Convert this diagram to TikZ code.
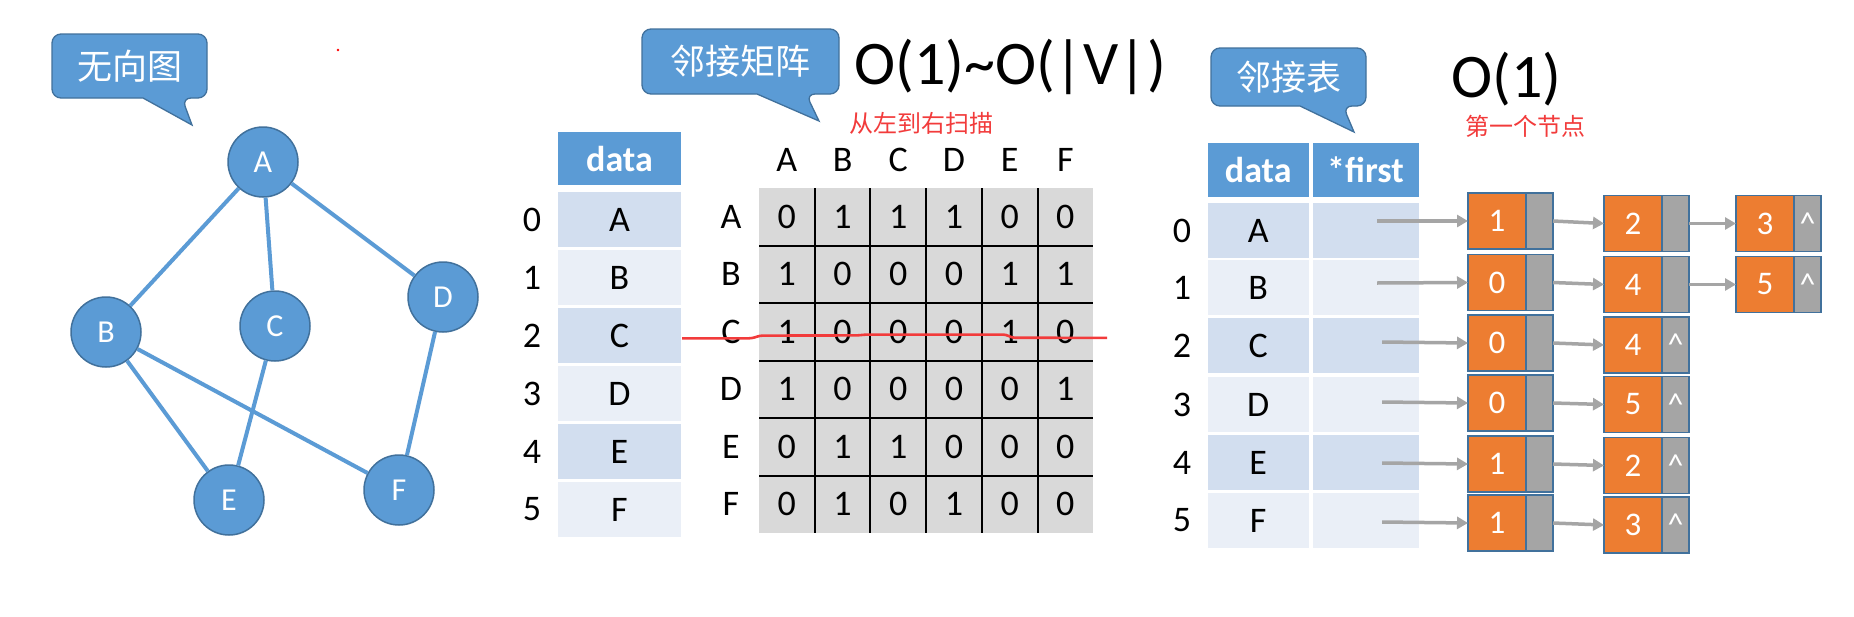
\documentclass[tikz,border=0pt]{standalone}
\usepackage{fontspec}
\setmainfont{Carlito}
\newfontfamily\cjk{Noto Sans CJK SC}
\usetikzlibrary{shapes.geometric,arrows.meta}
\definecolor{cblue}{HTML}{5B9BD5}
\definecolor{cborder}{HTML}{41719C}
\definecolor{rowA}{HTML}{D2DEEF}
\definecolor{rowB}{HTML}{EAEFF7}
\definecolor{mgray}{HTML}{D9D9D9}
\definecolor{corange}{HTML}{ED7D31}
\definecolor{cgray}{HTML}{A5A5A5}
\definecolor{cred}{HTML}{F23B3B}
\newcommand{\fsz}[1]{\fontsize{#1}{#1}\selectfont}
\newcommand{\nullmark}{\raisebox{-4pt}{\textasciicircum}}
\begin{document}
\begin{tikzpicture}[x=1pt,y=-1pt,
  callout/.style={fill=cblue,draw=cborder,line width=1.3pt},
  ctext/.style={text=white,inner sep=0pt,font=\cjk\fsz{35}},
  vert/.style={circle,fill=cblue,draw=cborder,line width=1.5pt,minimum size=70pt,inner sep=0pt,text=white,font=\fsz{32}},
  edge/.style={draw=cblue,line width=4pt},
  hdr/.style={rectangle,fill=cblue,text=white,font=\bfseries\fsz{36},inner sep=0pt},
  celA/.style={rectangle,fill=rowA,inner sep=0pt,minimum height=55pt,font=\fsz{36}},
  celB/.style={rectangle,fill=rowB,inner sep=0pt,minimum height=55pt,font=\fsz{36}},
  lab/.style={font=\fsz{36},inner sep=0pt},
  gridline/.style={draw=black,line width=2pt},
  redline/.style={draw=cred,line width=2.6pt,rounded corners=3pt},
  redtext/.style={text=cred,inner sep=0pt,font=\cjk\fsz{24}},
  onode/.style={rectangle,fill=corange,draw=cborder,line width=1.6pt,minimum width=58pt,minimum height=56pt,inner sep=0pt,outer sep=0pt,text=white,font=\fsz{33}},
  gnode/.style={rectangle,fill=cgray,draw=cborder,line width=1.6pt,minimum width=27pt,minimum height=56pt,inner sep=0pt,outer sep=0pt,text=white,font=\fsz{32}},
  garrow/.style={draw=cgray,line width=3.5pt,-{Triangle[length=11pt,width=12pt]}},
  big/.style={inner sep=0pt,font=\fsz{62}}
]
\useasboundingbox (0,0) rectangle (1854,616);
\fill[white] (0,0) rectangle (1854,616);

% ---------- callouts ----------
\filldraw[callout] (100,34) [rounded corners=9pt] -- (207,34) -- (207,98) -- (182,98) [sharp corners] -- (192,125) -- (143,98) [rounded corners=9pt] -- (52,98) -- (52,34) -- cycle;
\node[ctext] (t1) at (129.5,66) {无向图};

\filldraw[callout] (700,29) [rounded corners=9pt] -- (839,29) -- (839,94) -- (806,94) [sharp corners] -- (819,121) -- (757,94) [rounded corners=9pt] -- (642,94) -- (642,29) -- cycle;
\node[ctext] (t2) at (740.5,61.5) {邻接矩阵};

\filldraw[callout] (1260,48) [rounded corners=9pt] -- (1366,48) -- (1366,106) -- (1343,106) [sharp corners] -- (1354,132) -- (1300,106) [rounded corners=9pt] -- (1211,106) -- (1211,48) -- cycle;
\node[ctext] (t3) at (1288.5,77) {邻接表};

\fill[red] (338,50) circle (1.4);

% ---------- graph ----------
\node[vert] (A) at (263,162) {A};
\node[vert] (B) at (106,332) {B};
\node[vert] (C) at (275,326) {C};
\node[vert] (D) at (443,297) {D};
\node[vert] (E) at (229,500) {E};
\node[vert] (F) at (399,490) {F};
\draw[edge] (A) -- (B);
\draw[edge] (A) -- (C);
\draw[edge] (A) -- (D);
\draw[edge] (B) -- (E);
\draw[edge] (B) -- (F);
\draw[edge] (C) -- (E);
\draw[edge] (D) -- (F);

% ---------- big labels ----------
\node[big,anchor=base west] (o1) at (854,84) {O(1)\textasciitilde O(|V|)};
\node[redtext] (r1) at (921,123) {从左到右扫描};
\node[big,anchor=base west] (o2) at (1451,97) {O(1)};
\node[redtext] (r2) at (1525,126) {第一个节点};

% ---------- left table ----------
\node[hdr,minimum width=123pt,minimum height=53pt] (h1) at (619.5,158.5) {data};
\foreach \L [count=\i from 0] in {A,B,C,D,E,F}{
  \pgfmathsetmacro{\yy}{219.5+58*\i}
  \ifodd\i \node[celB,minimum width=123pt] (l\i) at (619.5,\yy) {\L};
  \else \node[celA,minimum width=123pt] (l\i) at (619.5,\yy) {\L}; \fi
  \node[lab] (li\i) at (532,\yy) {\i};
}

% ---------- matrix ----------
\fill[mgray] (759,188) rectangle (1093,533);
\foreach \k in {1,...,5}{
  \draw[gridline] ({759+55.7*\k},188) -- ({759+55.7*\k},533);
  \draw[gridline] (759,{188+57.5*\k}) -- (1093,{188+57.5*\k});
}
\foreach \L [count=\j from 0] in {A,B,C,D,E,F}{
  \node[lab] (ch\j) at ({786.85+55.7*\j},160) {\L};
  \node[lab] (rh\j) at (731,{216.75+57.5*\j}) {\L};
}
\foreach \row [count=\i from 0] in {{0,1,1,1,0,0},{1,0,0,0,1,1},{1,0,0,0,1,0},{1,0,0,0,0,1},{0,1,1,0,0,0},{0,1,0,1,0,0}}{
  \foreach \v [count=\j from 0] in \row {
    \node[lab] (m\i\j) at ({786.85+55.7*\j},{216.75+57.5*\i}) {\v};
  }
}
\draw[redline] (682,338.3) -- (752,338.3) -- (760,335.6) -- (858,335.4) -- (865,334.6) -- (1006,334.6) -- (1012,337.7) -- (1107,337.9);

% ---------- right table ----------
\node[hdr,minimum width=101.5pt,minimum height=54pt] (h2) at (1258.25,170) {data};
\node[hdr,minimum width=106pt,minimum height=54pt] (h3) at (1365.5,170) {*first};
\foreach \L/\yy [count=\i from 0] in {A/230.5,B/287.5,C/345.5,D/404.5,E/462.5,F/520.5}{
  \ifodd\i
    \node[celB,minimum width=101.5pt] (r\i) at (1258.25,\yy) {\L};
    \node[celB,minimum width=106pt] (p\i) at (1365.5,\yy) {};
  \else
    \node[celA,minimum width=101.5pt] (r\i) at (1258.25,\yy) {\L};
    \node[celA,minimum width=106pt] (p\i) at (1365.5,\yy) {};
  \fi
  \node[lab] (ri\i) at (1182,\yy) {\i};
}

% ---------- linked lists ----------
% column 1
\foreach \v/\yy/\ay/\ax [count=\i from 0] in {1/221/221/1377,0/282.5/283/1377,0/343/342/1382,0/403/402/1382,1/464/463/1382,1/523/522/1382}{
  \node[onode] (a\i) at (1497,\yy) {\v};
  \node[gnode,anchor=west] (ag\i) at (a\i.east) {};
  \coordinate (s\i) at (\ax,\ay);
  \draw[garrow] (s\i) -- (a\i.west);
}
% column 2
\foreach \v/\yy/\nul [count=\i from 0] in {2/223.5/0,4/284.5/0,4/345/1,5/404.5/1,2/465.5/1,3/525/1}{
  \node[onode] (b\i) at (1633,\yy) {\v};
  \ifnum\nul=1
    \node[gnode,anchor=west] (bg\i) at (b\i.east) {\nullmark};
  \else
    \node[gnode,anchor=west] (bg\i) at (b\i.east) {};
  \fi
  \draw[garrow] (ag\i.east) -- (b\i.west);
}
% column 3
\foreach \v/\yy [count=\i from 0] in {3/223.5,5/284.5}{
  \node[onode] (c\i) at (1765,\yy) {\v};
  \node[gnode,anchor=west] (cg\i) at (c\i.east) {\nullmark};
  \draw[garrow] (bg\i.east) -- (c\i.west);
}
\end{tikzpicture}
\end{document}
